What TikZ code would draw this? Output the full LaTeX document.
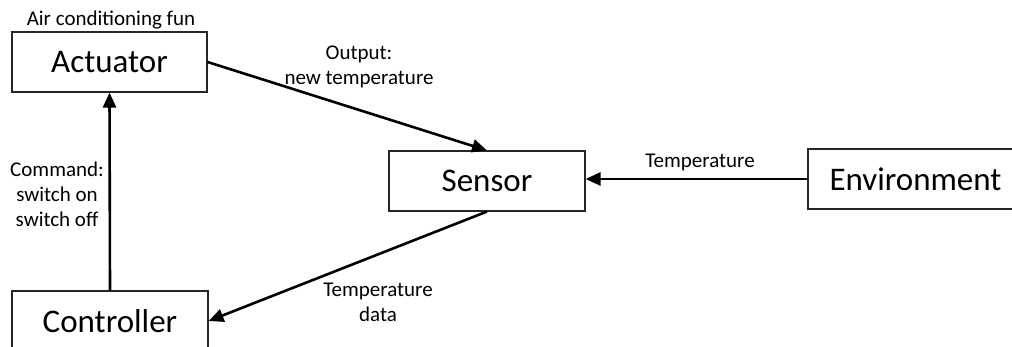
\documentclass[tikz,border=0pt]{standalone}
\usepackage{fontspec}
\setmainfont{Carlito}
\usetikzlibrary{arrows.meta}
\begin{document}
\begin{tikzpicture}[x=1pt,y=-1pt,
  block/.style={draw=black!85,line width=1.1pt,minimum height=60pt,inner sep=0pt,
    font=\fontsize{33}{38}\selectfont},
  flow/.style={line width=2.6pt,-{Triangle[length=15pt,width=13pt]}},
  note/.style={align=center,inner sep=0pt,font=\fontsize{21}{25}\selectfont}]
  \useasboundingbox (0,0) rectangle (1012,347);
  \begin{scope}
    \clip (0,0) rectangle (1012,347);
    % the four blocks of the control loop
    \node[block,minimum width=195pt] (act) at (109.5,62) {Actuator};
    \node[block,minimum width=196pt] (ctrl) at (110,321) {Controller};
    \node[block,minimum width=196pt] (sen) at (487,181) {Sensor};
    \node[block,minimum width=215pt] (env) at (915.5,179) {Environment};

    % signal flow
    \draw[flow] (act.east) -- (sen.north);
    \draw[flow] (env.west) -- (env.west -| sen.east);
    \draw[flow] (sen.south) -- (ctrl.east);
    \draw[flow] (ctrl.north) -- (act.south);

    % labels
    \node[note] (actlbl) at (111,20) {Air conditioning fun};
    \node[note] (outlbl) at (359,67) {Output:\\new temperature};
    \node[note] (cmdlbl) at (57,194) {Command:\\switch on\\switch off};
    \node[note] (templbl) at (700,162) {Temperature};
    \node[note] (datalbl) at (378,302) {Temperature\\data};
  \end{scope}
\end{tikzpicture}
\end{document}
